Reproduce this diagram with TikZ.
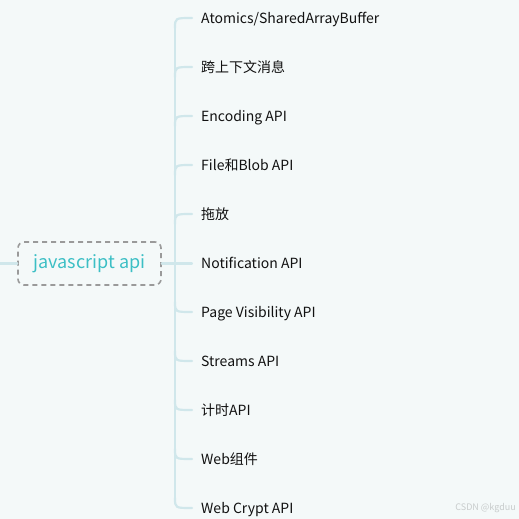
\documentclass[tikz,border=0pt]{standalone}
\usepackage{fontspec}
\setmainfont{Noto Sans CJK SC}
\definecolor{bg}{HTML}{F4F9F9}
\definecolor{lnc}{HTML}{D0E7EB}
\definecolor{teal}{HTML}{3CBFC5}
\definecolor{boxc}{HTML}{9A9A9A}
\definecolor{txt}{HTML}{111111}
\definecolor{wm}{HTML}{C8CCCC}
\tikzset{
  conn/.style={draw=lnc, line width=2.2pt, line cap=round},
  leaf/.style={anchor=west, inner sep=0pt, text height=13pt, text depth=1.5pt, text=txt, font=\fontsize{14}{15}\selectfont},
  rootbox/.style={draw=boxc, dashed, dash pattern=on 5pt off 4pt, line width=1.6pt, rounded corners=6pt, minimum width=143pt, minimum height=43pt, text=teal, font=\fontsize{18}{20}\selectfont}
}
\begin{document}
\begin{tikzpicture}[x=1pt,y=-1pt]
\fill[bg] (0,0) rectangle (519,519);
\useasboundingbox (0,0) rectangle (519,519);
\node[rootbox] (root) at (89.5,263.5) {javascript api};
\coordinate (lend) at (0,263.5);
\draw[conn] (lend) -- (root.west);
\foreach \n/\y/\t in {a/18/{Atomics/SharedArrayBuffer}, b/67/{跨上下文消息}, c/116/{Encoding API}, d/165/{File和Blob API}, e/214/{拖放}, f/263/{Notification API}, g/312/{Page Visibility API}, h/361/{Streams API}, i/410/{计时API}, j/459/{Web组件}, k/508/{Web Crypt API}}{
  \node[leaf] (\n) at (201,\y) {\t};
}
\coordinate (ttop) at (175,28);
\coordinate (tbot) at (175,498);
\draw[conn] (ttop) -- (tbot);
\foreach \n/\y in {a/18,b/67,c/116,d/165,e/214}{
  \coordinate (s\n) at (175,\y+10);
  \coordinate (c\n) at (175,\y);
  \coordinate (t\n) at (192,\y);
  \draw[conn] (s\n) .. controls (c\n) .. (t\n);
}
\foreach \n/\y in {g/312,h/361,i/410,j/459,k/508}{
  \coordinate (s\n) at (175,\y-10);
  \coordinate (c\n) at (175,\y);
  \coordinate (t\n) at (192,\y);
  \draw[conn] (s\n) .. controls (c\n) .. (t\n);
}
\coordinate (tf) at (192,263.5);
\draw[conn] (root.east) -- (tf);
\node[anchor=east, inner sep=0pt, text=wm, font=\fontsize{9}{10}\selectfont] (wmk) at (516,508) {CSDN @kgduu};
\end{tikzpicture}
\end{document}
